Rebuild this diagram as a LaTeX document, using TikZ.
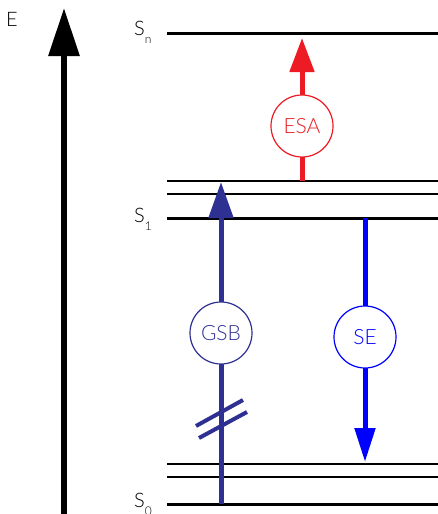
\documentclass[tikz,border=0pt]{standalone}
\usepackage{fontspec}
\setmainfont{Lato}[UprightFont=* Light]
\usetikzlibrary{arrows.meta}
\definecolor{gsbblue}{RGB}{46,49,146}
\definecolor{esared}{RGB}{237,28,36}
\definecolor{seblue}{RGB}{0,0,255}
\newcommand{\lowsub}[1]{\raisebox{-8pt}{\fontsize{12}{12}\selectfont #1}}
\tikzset{
  thicklevel/.style={line width=3pt},
  thinlevel/.style={line width=1.5pt},
  proc/.style={circle, draw, fill=white, line width=1.2pt, minimum size=62pt, inner sep=0pt, font=\fontsize{21}{24}\selectfont},
  lbl/.style={inner sep=0pt, font=\fontsize{20}{24}\selectfont},
}
\begin{document}
\begin{tikzpicture}[x=1pt,y=-1pt]
\useasboundingbox (0,0) rectangle (438,514);
% energy axis
\coordinate (ebot) at (64,514);
\coordinate (etop) at (64,8);
\draw[line width=6pt, -{Triangle[length=48pt,width=30pt]}] (ebot) -- (etop);
\node[lbl, anchor=base west] (E) at (6,26) {E};
% levels
\draw[thicklevel] (167,33) -- (438,33);
\draw[thinlevel] (167,181) -- (438,181);
\draw[thinlevel] (167,194) -- (438,194);
\draw[thicklevel] (167,218) -- (438,218);
\draw[thinlevel] (167,464) -- (438,464);
\draw[thinlevel] (167,477) -- (438,477);
\draw[thicklevel] (167,504) -- (438,504);
\node[lbl, anchor=base west] (Sn) at (134,35) {S\lowsub{n}};
\node[lbl, anchor=base west] (S1) at (134,222) {S\lowsub{1}};
\node[lbl, anchor=base west] (S0) at (134,507) {S\lowsub{0}};
% GSB
\coordinate (gsbA) at (221,504);
\coordinate (gsbB) at (221,182);
\draw[gsbblue, line width=5pt, -{Triangle[length=36pt,width=24pt]}] (gsbA) -- (gsbB);
\node[proc, draw=gsbblue, text=gsbblue] (GSB) at (221,333) {GSB};
\coordinate (b1a) at (196,426); \coordinate (b1b) at (243,400);
\coordinate (b2a) at (199,438); \coordinate (b2b) at (247,412);
\draw[gsbblue, line width=4pt] (b1a) -- (b1b);
\draw[gsbblue, line width=4pt] (b2a) -- (b2b);
% ESA
\coordinate (esaA) at (302,181);
\coordinate (esaB) at (302,38);
\draw[esared, line width=5pt, -{Triangle[length=34pt,width=24pt]}] (esaA) -- (esaB);
\node[proc, draw=esared, text=esared] (ESA) at (302,126) {ESA};
% SE
\coordinate (seA) at (365,218);
\coordinate (seB) at (365,462);
\draw[seblue, line width=5pt, -{Triangle[length=34pt,width=20pt]}] (seA) -- (seB);
\node[proc, draw=seblue, text=seblue] (SE) at (365,337) {SE};
\end{tikzpicture}
\end{document}
